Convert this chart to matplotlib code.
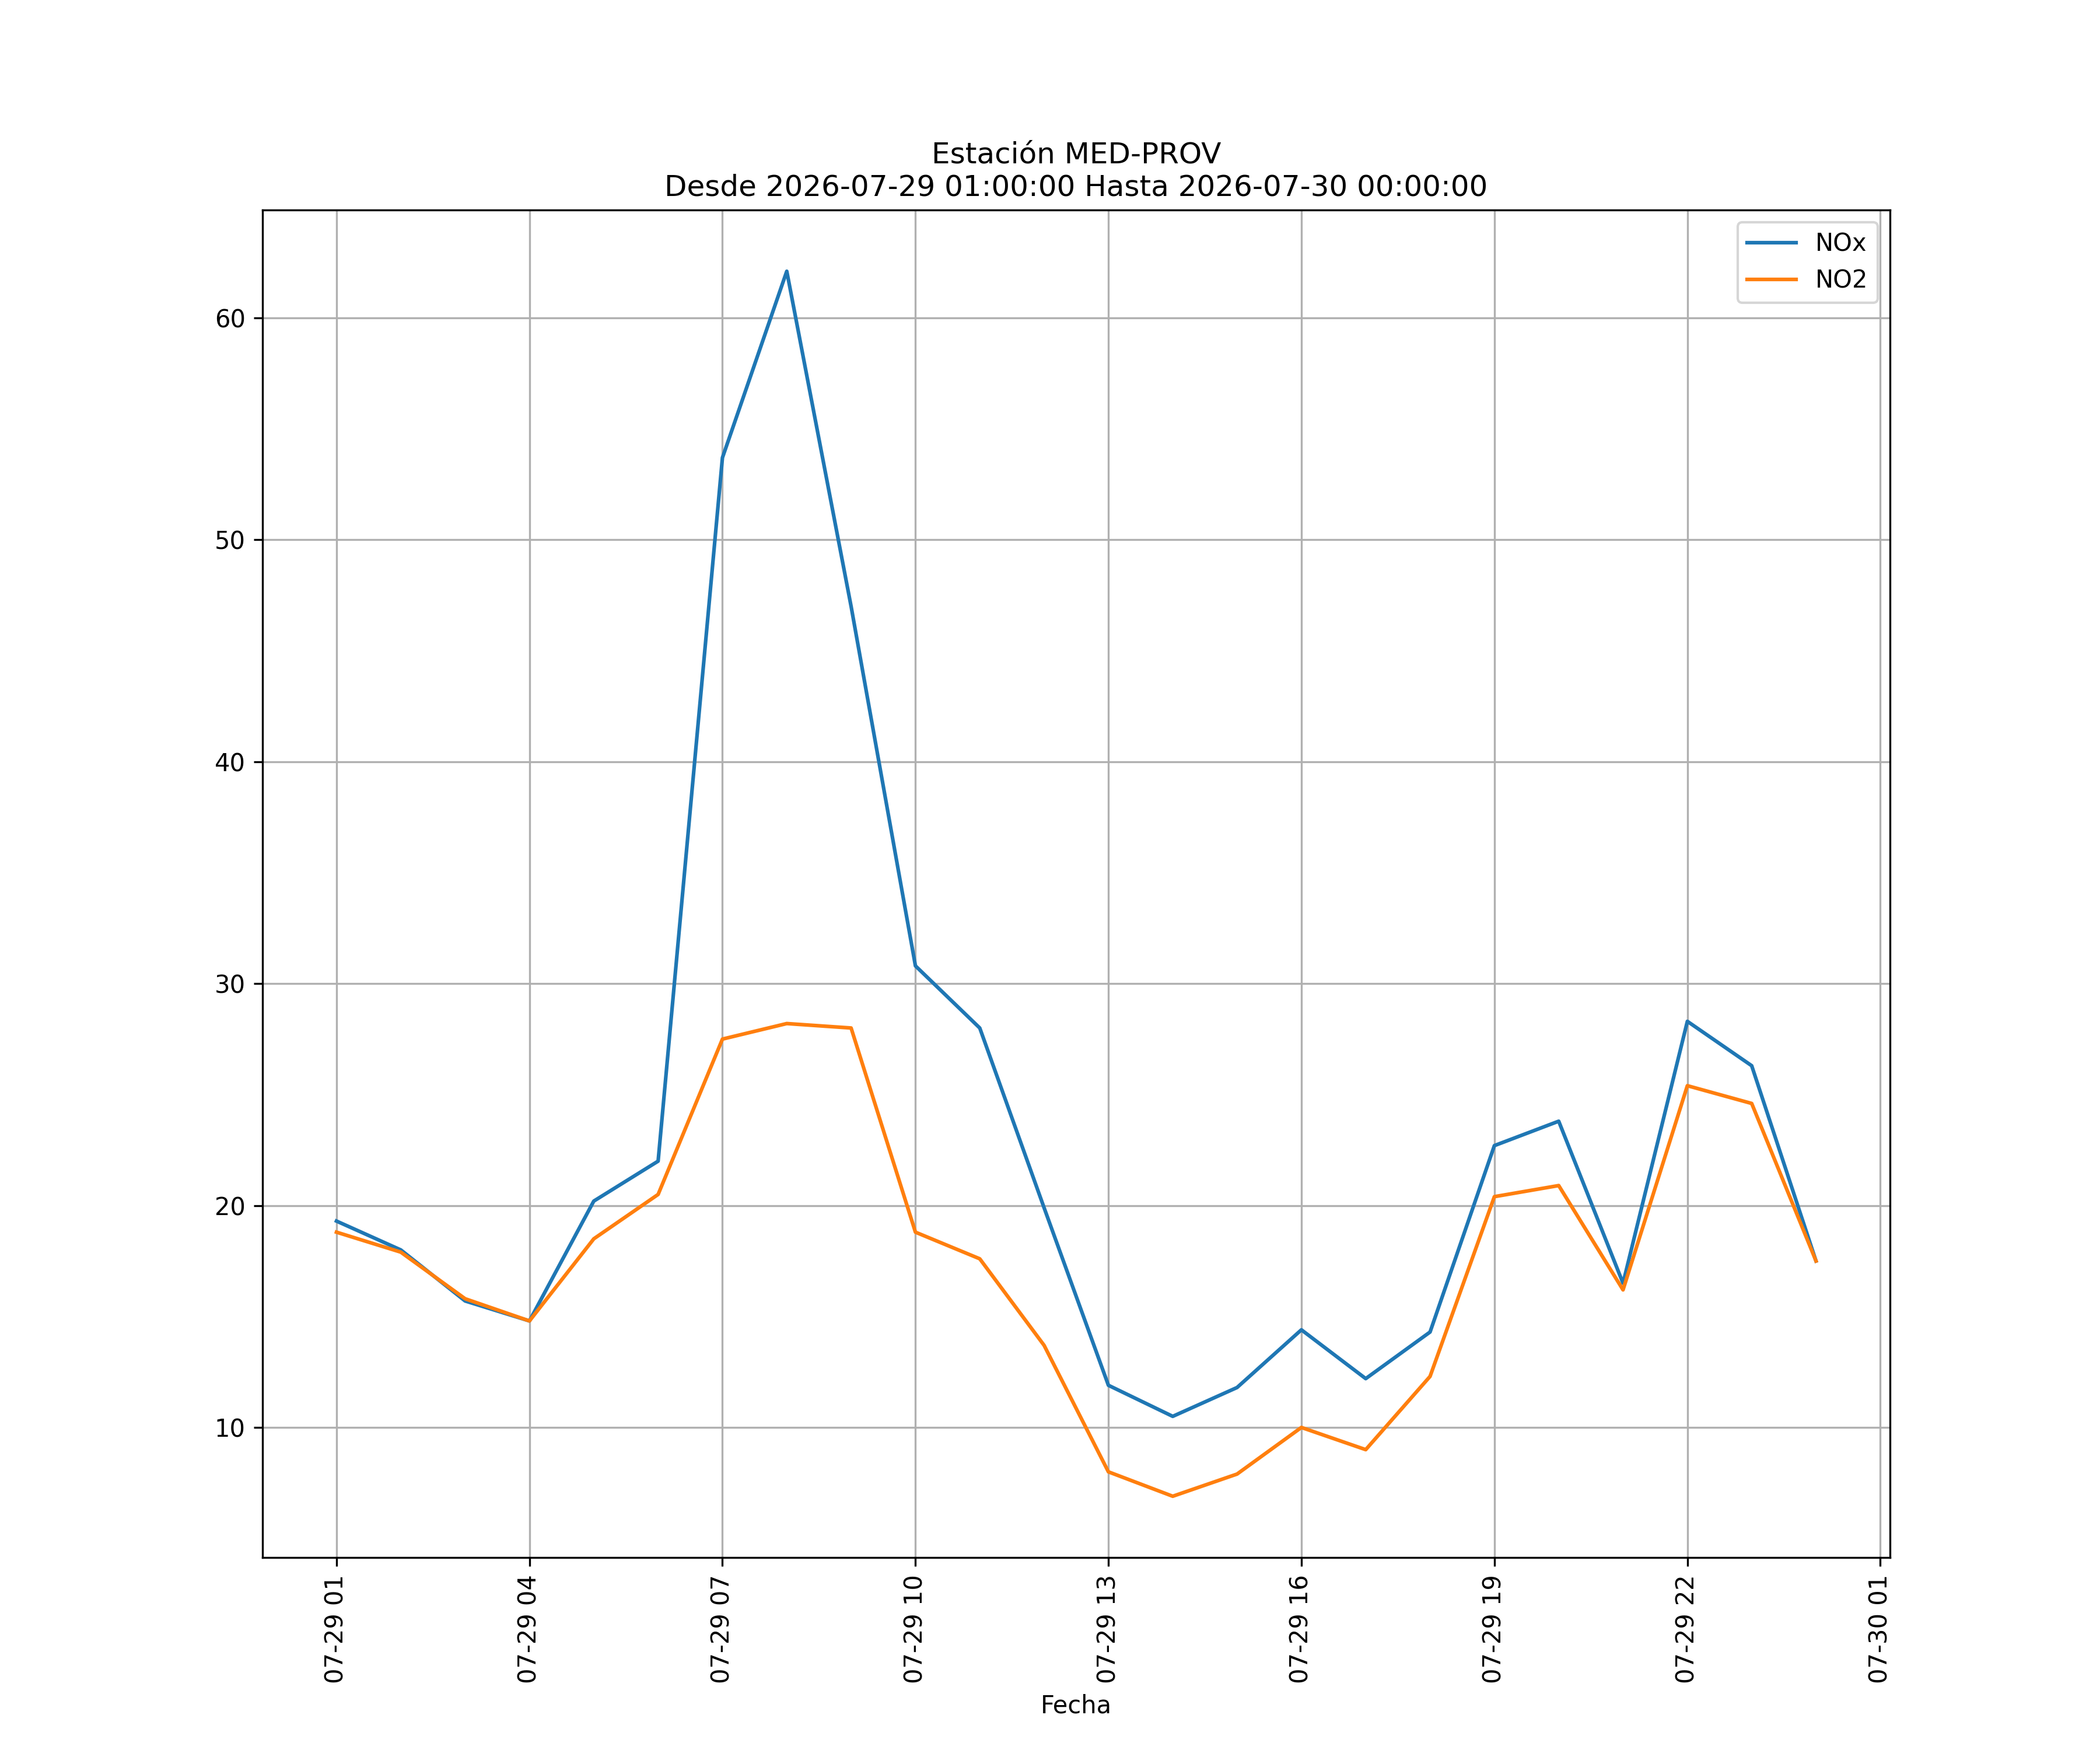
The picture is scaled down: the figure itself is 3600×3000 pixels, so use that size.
import pandas as pd
import matplotlib
matplotlib.use("Agg")
import matplotlib.pyplot as plt
import matplotlib.dates as mdates

# Hourly values
fechas = pd.date_range("2026-07-29 01:00:00", "2026-07-30 00:00:00", freq="h")
nox = [19.3, 18.0, 15.7, 14.8, 20.2, 22.0, 53.7, 62.1, 47.0, 30.8, 28.0, 19.9,
       11.9, 10.5, 11.8, 14.4, 12.2, 14.3, 22.7, 23.8, 16.5, 28.3, 26.3, 17.5]
no2 = [18.8, 17.9, 15.8, 14.8, 18.5, 20.5, 27.5, 28.2, 28.0, 18.8, 17.6, 13.7,
       8.0, 6.9, 7.9, 10.0, 9.0, 12.3, 20.4, 20.9, 16.2, 25.4, 24.6, 17.5]

fig, ax = plt.subplots(figsize=(12, 10))
ax.plot(fechas, nox, label="NOx")
ax.plot(fechas, no2, label="NO2")

ax.xaxis.set_major_locator(mdates.HourLocator(byhour=range(1, 24, 3)))
ax.xaxis.set_major_formatter(mdates.DateFormatter("%m-%d %H"))
plt.xticks(rotation=90)

ax.set_title("Estación MED-PROV\nDesde 2026-07-29 01:00:00 Hasta 2026-07-30 00:00:00")
ax.set_xlabel("Fecha")
ax.grid(True)
ax.legend(loc="upper right")

fig.savefig("out.png", dpi=300)
